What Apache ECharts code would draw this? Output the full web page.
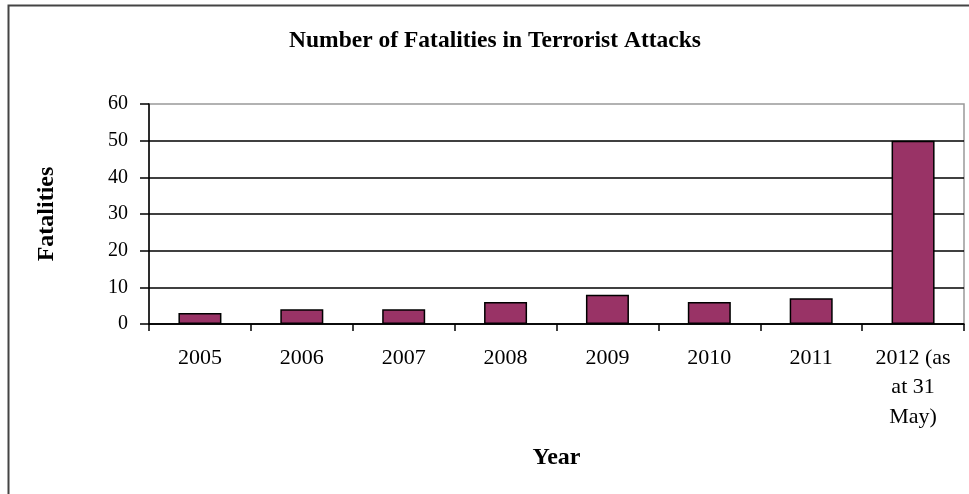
<!DOCTYPE html>
<html>
<head>
<meta charset="utf-8">
<script src="https://cdn.jsdelivr.net/npm/echarts@6/dist/echarts.min.js"></script>
<style>html,body{margin:0;padding:0;background:#fff;}#c{width:969px;height:494px;}</style>
</head>
<body>
<div id="c"></div>
<script>
const categories = ['2005','2006','2007','2008','2009','2010','2011','2012 (as\nat 31\nMay)'];
const fatalities = [3, 4, 4, 6, 8, 6, 7, 50];
const yTicks = [0, 10, 20, 30, 40, 50, 60];

const chart = echarts.init(document.getElementById('c'), null, {renderer:'canvas'});
const serif = '"Liberation Serif", "Times New Roman", serif';
chart.setOption({
  animation: false,
  backgroundColor: '#fff',
  title: {
    text: 'Number of Fatalities in Terrorist Attacks',
    left: 490, top: 24, textAlign: 'center',
    textStyle: {fontFamily: serif, fontWeight: 'bold', fontSize: 23.5, color: '#000'}
  },
  graphic: [{
    type: 'rect', shape: {x: 8.5, y: 5.5, width: 1200, height: 1200},
    style: {fill: 'none', stroke: '#444', lineWidth: 2}, silent: true
  }],
  grid: {left: 149, top: 104, right: 5, bottom: 170, show: true, borderColor: '#999', borderWidth: 1.5, backgroundColor: 'transparent'},
  xAxis: {
    type: 'category', data: categories,
    name: 'Year', nameLocation: 'middle', nameGap: 122,
    nameTextStyle: {fontFamily: serif, fontWeight: 'bold', fontSize: 24, color: '#000'},
    axisLine: {lineStyle: {color: '#000', width: 1.5}},
    axisTick: {show: true, length: 7, lineStyle: {color: '#000', width: 1.5}},
    axisLabel: {fontFamily: serif, fontSize: 22, color: '#000', margin: 19, lineHeight: 29.5, interval: 0}
  },
  yAxis: {
    type: 'value', min: 0, max: 60, interval: 10,
    name: 'Fatalities', nameLocation: 'middle', nameGap: 90, nameRotate: 90,
    nameTextStyle: {fontFamily: serif, fontWeight: 'bold', fontSize: 24, color: '#000'},
    axisLine: {show: true, lineStyle: {color: '#000', width: 1.5}},
    axisTick: {show: true, length: 9, lineStyle: {color: '#000', width: 1.5}},
    axisLabel: {fontFamily: serif, fontSize: 20, color: '#000', margin: 21,
      formatter: v => yTicks.includes(v) ? String(v) : ''},
    splitLine: {show: true, showMaxLine: false, lineStyle: {color: '#000', width: 1.5}}
  },
  series: [{
    type: 'bar', data: fatalities, barWidth: 43,
    itemStyle: {color: '#993366', borderColor: '#000', borderWidth: 1.5}
  }]
});
</script>
</body>
</html>
